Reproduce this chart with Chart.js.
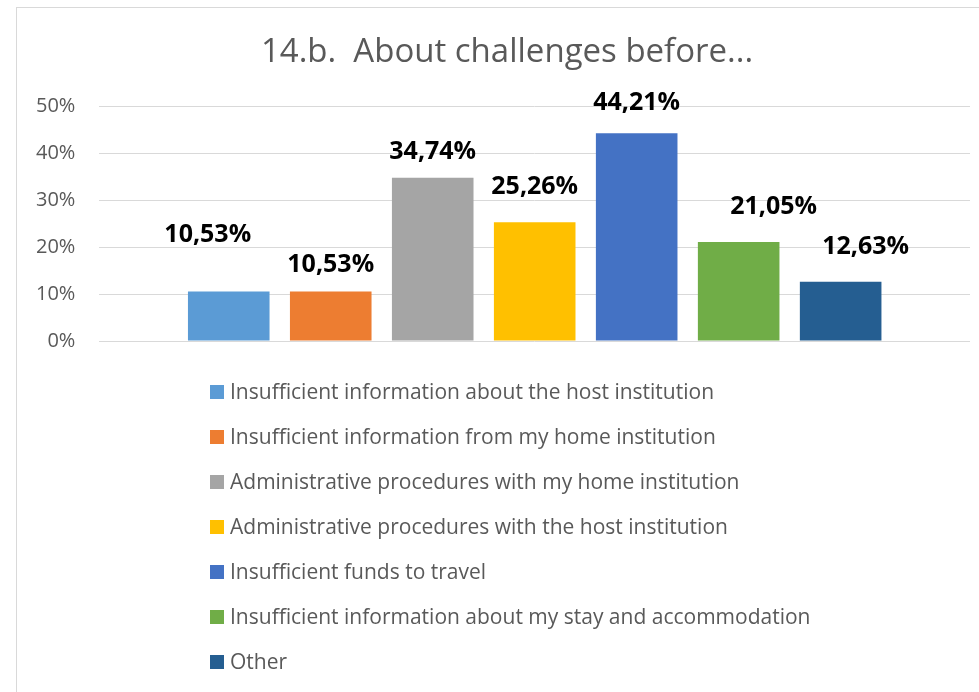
<!DOCTYPE html>
<html>
<head>
<meta charset="utf-8">
<script src="https://cdn.jsdelivr.net/npm/chart.js@4.4.1/dist/chart.umd.min.js"></script>
<style>
  html, body { margin: 0; padding: 0; background: #fff; }
  #wrap { width: 979px; height: 692px; }
</style>
</head>
<body>
<div id="wrap"><canvas id="bar-chart"></canvas></div>
<script>
const chartTitle = '14.b.  About challenges before...';
const categories = [
  "Insufficient information about the host institution",
  "Insufficient information from my home institution",
  "Administrative procedures with my home institution",
  "Administrative procedures with the host institution",
  "Insufficient funds to travel",
  "Insufficient information about my stay and accommodation",
  "Other"
];
const values = [10.53, 10.53, 34.74, 25.26, 44.21, 21.05, 12.63];
const colors = ["#5B9BD5", "#ED7D31", "#A5A5A5", "#FFC000", "#4472C4", "#70AD47", "#255E91"];
const yTicks = [0, 10, 20, 30, 40, 50];

// where Excel's value labels were dragged to, relative to the top of each bar
const labelShift = [[-21, -57], [0, -27], [0, -26], [0, -35], [0, -30], [35, -35], [25, -35]];

// border of the Excel chart object + its title, centred on that border
const frame = {
  id: 'frame',
  beforeDraw(chart) {
    const ctx = chart.ctx;
    ctx.save();
    ctx.strokeStyle = '#d9d9d9';
    ctx.lineWidth = 1;
    ctx.strokeRect(16.5, 7.5, chart.width + 20, chart.height + 20);
    ctx.font = '33px "Open Sans"';
    ctx.fillStyle = '#595959';
    ctx.textAlign = 'center';
    ctx.textBaseline = 'middle';
    ctx.fillText(chartTitle, 507, 53);
    ctx.restore();
  }
};

const valueLabels = {
  id: 'valueLabels',
  afterDatasetsDraw(chart) {
    const ctx = chart.ctx;
    ctx.save();
    ctx.font = 'bold 25px "Open Sans"';
    ctx.fillStyle = '#000';
    ctx.textAlign = 'center';
    ctx.textBaseline = 'middle';
    chart.data.datasets.forEach((ds, i) => {
      const bar = chart.getDatasetMeta(i).data[0];
      const s = labelShift[i];
      ctx.fillText(ds.data[0].toFixed(2).replace('.', ',') + '%', bar.x + s[0], bar.y + s[1]);
    });
    ctx.restore();
  }
};

const listLegend = {
  id: 'listLegend',
  afterDraw(chart) {
    const ctx = chart.ctx;
    const top = chart.chartArea.bottom + 51;
    ctx.save();
    ctx.font = '21px "Open Sans"';
    ctx.textBaseline = 'middle';
    chart.data.datasets.forEach((ds, i) => {
      const y = top + i * 45;
      ctx.fillStyle = ds.backgroundColor;
      ctx.fillRect(210, y - 7, 14, 14);
      ctx.fillStyle = '#595959';
      ctx.fillText(ds.label, 230, y + 1);
    });
    ctx.restore();
  }
};

new Chart(document.getElementById("bar-chart"), {
  type: 'bar',
  data: {
    labels: [''],
    datasets: categories.map((c, i) => ({
      label: c,
      data: [values[i]],
      backgroundColor: colors[i],
      categoryPercentage: 0.82,
      barPercentage: 0.8
    }))
  },
  options: {
    responsive: true,
    maintainAspectRatio: false,
    animation: false,
    layout: { padding: { left: 12, right: 9, top: 106, bottom: 351 } },
    scales: {
      x: { display: false },
      y: {
        min: 0,
        max: 50,
        afterBuildTicks(axis) { axis.ticks = yTicks.map(v => ({ value: v })); },
        ticks: {
          padding: 24,
          color: '#595959',
          font: { family: 'Open Sans', size: 20 },
          callback: v => v + '%'
        },
        grid: { color: '#d9d9d9', drawTicks: false },
        border: { display: false }
      }
    },
    plugins: {
      legend: { display: false },
      tooltip: { enabled: false },
      title: { display: false }
    }
  },
  plugins: [frame, valueLabels, listLegend]
});
</script>
</body>
</html>
